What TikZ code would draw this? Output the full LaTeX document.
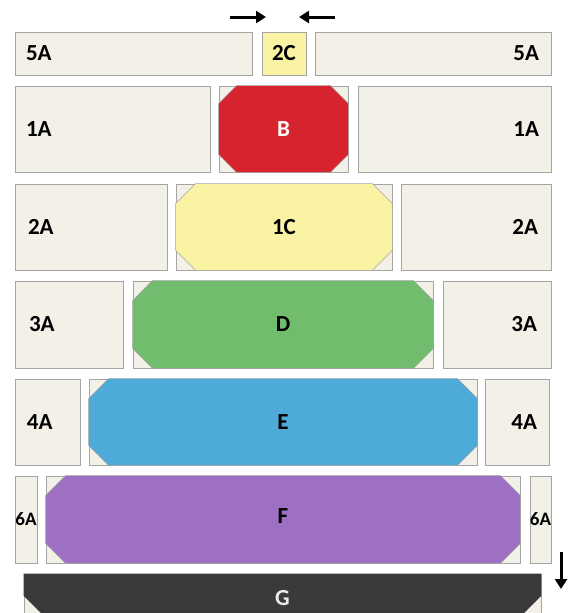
\documentclass[tikz,border=0pt]{standalone}
\usepackage{fontspec}
\setmainfont{Carlito}
\usetikzlibrary{arrows.meta,calc}
\definecolor{cream}{HTML}{F3F0E8}
\definecolor{seam}{HTML}{A5A5A5}
\definecolor{yelC}{HTML}{FBF3A4}
\definecolor{redB}{HTML}{D7232E}
\definecolor{greenD}{HTML}{72BC6D}
\definecolor{blueE}{HTML}{4EAAD9}
\definecolor{purpF}{HTML}{9E70C3}
\definecolor{greyG}{HTML}{3A3A3C}
\tikzset{
  piece/.style={draw=seam,fill=cream,line width=0.8pt,rectangle,inner sep=0pt,font=\bfseries\fontsize{23}{23}\selectfont},
  pl/.style={piece,align=left},
  pr/.style={piece,align=right},
  slim/.style={piece,font=\bfseries\fontsize{19}{19}\selectfont},
  lbl/.style={inner sep=0pt,font=\bfseries\fontsize{23}{23}\selectfont},
  lblw/.style={lbl,text=white!93!pink},
  push/.style={-{Triangle[length=10pt,width=12pt]},line width=3pt,black},
}
% octagon patch inside a frame node: frame, cut, colour
\newcommand\octpiece[3]{%
  \filldraw[#3,draw=seam,line width=0.6pt]
    ($(#1.north west)+(#2,0)$) -- ($(#1.north east)+(-#2,0)$)
    -- ($(#1.north east)+(0,#2)$) -- ($(#1.south east)+(0,-#2)$)
    -- ($(#1.south east)+(-#2,0)$) -- ($(#1.south west)+(#2,0)$)
    -- ($(#1.south west)+(0,-#2)$) -- ($(#1.north west)+(0,#2)$) -- cycle;}

\begin{document}
\begin{tikzpicture}[x=1pt,y=-1pt]
  \useasboundingbox[fill=white] (0,0) rectangle (575,613);
  \clip (0,0) rectangle (575,613);

  % row 1: 5A | 2C | 5A
  \node[pl,minimum width=237pt,minimum height=43pt,text width=215pt] (a5l) at (133.5,53.5) {5A};
  \node[piece,fill=yelC,minimum width=44pt,minimum height=43pt] (c2) at (284,53.5) {2C};
  \node[pr,minimum width=236pt,minimum height=43pt,text width=212pt] (a5r) at (433,53.5) {5A};

  \coordinate (pushl0) at (230,17);
  \coordinate (pushl1) at (266,17);
  \coordinate (pushr0) at (335,17);
  \coordinate (pushr1) at (299,17);
  \draw[push] (pushl0) -- (pushl1);
  \draw[push] (pushr0) -- (pushr1);

  % row 2: 1A | B | 1A
  \node[pl,minimum width=195pt,minimum height=86pt,text width=173pt] (a1l) at (112.5,129) {1A};
  \node[piece,minimum width=129pt,minimum height=86pt] (fB) at (283.5,129) {};
  \node[pr,minimum width=193pt,minimum height=86pt,text width=169pt] (a1r) at (454.5,129) {1A};
  \octpiece{fB}{18}{redB}
  \node[lblw] (lB) at (fB) {B};

  % row 3: 2A | 1C | 2A
  \node[pl,minimum width=152pt,minimum height=86pt,text width=126pt] (a2l) at (91,227) {2A};
  \node[piece,minimum width=216pt,minimum height=86pt] (fC) at (284,227) {};
  \node[pr,minimum width=150pt,minimum height=86pt,text width=124pt] (a2r) at (476,227) {2A};
  \octpiece{fC}{20}{yelC}
  \node[lbl] (lC) at (fC) {1C};

  % row 4: 3A | D | 3A
  \node[pl,minimum width=108pt,minimum height=87pt,text width=80pt] (a3l) at (69,324.5) {3A};
  \node[piece,minimum width=300pt,minimum height=87pt] (fD) at (283,324.5) {};
  \node[pr,minimum width=108pt,minimum height=87pt,text width=80pt] (a3r) at (497,324.5) {3A};
  \octpiece{fD}{20}{greenD}
  \node[lbl] (lD) at (fD) {D};

  % row 5: 4A | E | 4A
  \node[pl,minimum width=65pt,minimum height=86pt,text width=41pt] (a4l) at (47.5,422) {4A};
  \node[piece,minimum width=388pt,minimum height=86pt] (fE) at (283,422) {};
  \node[pr,minimum width=64pt,minimum height=86pt,text width=40pt] (a4r) at (517,422) {4A};
  \octpiece{fE}{20}{blueE}
  \node[lbl] (lE) at (fE) {E};

  % row 6: 6A | F | 6A
  \node[slim,minimum width=22pt,minimum height=87pt] (a6l) at (26,519.5) {6A};
  \node[piece,minimum width=474pt,minimum height=87pt] (fF) at (283,519.5) {};
  \node[slim,minimum width=21pt,minimum height=87pt] (a6r) at (540.5,519.5) {6A};
  \octpiece{fF}{20}{purpF}
  \node[lbl] (lF) at ([yshift=3pt]fF) {F};

  % row 7: G (runs off the bottom)
  \node[piece,minimum width=517pt,minimum height=86pt] (fG) at (282.5,617) {};
  \fill[greyG] (fG.north west) -- (fG.north east) -- ($(fG.north east)+(0,22)$)
    -- ($(fG.south east)+(-64,0)$) -- ($(fG.south west)+(64,0)$)
    -- ($(fG.north west)+(0,22)$) -- cycle;
  \node[lblw,text=white!92!black] (lG) at ($(fG.north)+(0,24)$) {G};

  \coordinate (pushd0) at (561,552);
  \coordinate (pushd1) at (561,589);
  \draw[push] (pushd0) -- (pushd1);
\end{tikzpicture}
\end{document}
